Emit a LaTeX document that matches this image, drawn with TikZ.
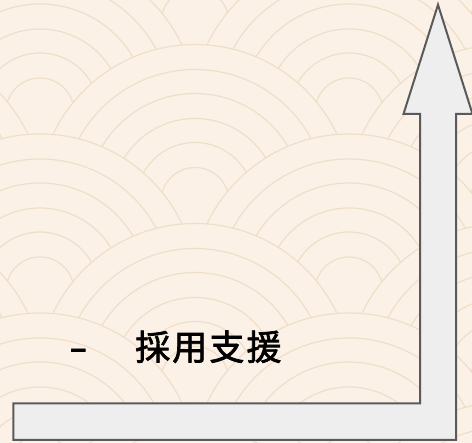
\documentclass[tikz,border=0pt]{standalone}
\usepackage{fontspec}
\newfontfamily\cjk[FakeBold=2]{Noto Sans CJK JP}
\definecolor{bgc}{RGB}{251,241,231}
\definecolor{wave}{RGB}{240,223,200}
\definecolor{arrowfill}{RGB}{238,238,238}
\definecolor{arrowline}{RGB}{90,90,90}
\tikzset{
  scaleline/.style={draw=wave, line width=1.2pt},
  bigarrow/.style={fill=arrowfill, draw=arrowline, line width=2pt, line join=miter},
  label/.style={font=\cjk\fontsize{35}{42}\selectfont, inner sep=0pt, text=black}
}
\begin{document}
\begin{tikzpicture}[x=1pt,y=-1pt]
\useasboundingbox (0,0) rectangle (472,443);
\fill[bgc] (0,0) rectangle (472,443);
\begin{scope}
  \clip (0,0) rectangle (472,443);
  \foreach \k in {-2,...,5} {
    \pgfmathsetmacro\cy{112+89.5*\k}
    \pgfmathsetmacro\off{155*mod(abs(\k),2)}
    \foreach \i in {-1,0,1} {
      \pgfmathsetmacro\cx{40+\off+309*\i}
      \fill[bgc] (\cx,\cy) circle[radius=157pt];
      \foreach \r in {34,59,83,108,132,157} {
        \draw[scaleline] (\cx,\cy) circle[radius=\r pt];
      }
    }
  }
\end{scope}
\coordinate (bl) at (13.3,440);
\coordinate (tl) at (13.3,403.3);
\coordinate (ic) at (420,403.3);
\coordinate (sl) at (420,114);
\coordinate (hl) at (403.5,114);
\coordinate (tip) at (438,4.7);
\coordinate (hr) at (472.5,114);
\coordinate (sr) at (456,114);
\coordinate (br) at (456,440);
\draw[bigarrow] (bl) -- (tl) -- (ic) -- (sl) -- (hl) -- (tip) -- (hr) -- (sr) -- (br) -- cycle;
\node[label, anchor=base west] (dash) at (69,360) {\scalebox{1.5}[1]{-}};
\node[label, anchor=base west, font=\cjk\addfontfeature{LetterSpace=6}\fontsize{35}{42}\selectfont] (txt) at (135,360) {採用支援};
\end{tikzpicture}
\end{document}
